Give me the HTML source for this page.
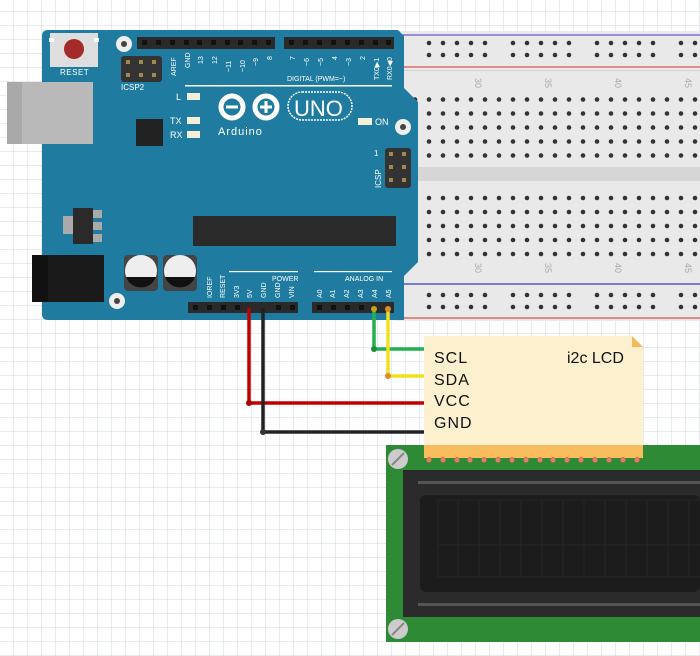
<!DOCTYPE html>
<html><head><style>
html,body{margin:0;padding:0;background:#fff;}
svg{display:block;}
text{font-family:"Liberation Sans",sans-serif;}
</style></head><body>
<svg width="700" height="656" viewBox="0 0 700 656" xmlns="http://www.w3.org/2000/svg">
<defs>
<pattern id="grid" x="13.3" y="11.3" width="14" height="14" patternUnits="userSpaceOnUse">
<path d="M0 0H14M0 0V14" stroke="#cfd6dc" stroke-width="1" fill="none"/>
</pattern>
<pattern id="holes" x="422" y="92.5" width="14" height="14" patternUnits="userSpaceOnUse">
<circle cx="7" cy="7" r="2.3" fill="#333"/>
</pattern>
<pattern id="rail" x="422" y="36" width="84" height="12" patternUnits="userSpaceOnUse">
<circle cx="7" cy="7" r="2.3" fill="#333"/><circle cx="21" cy="7" r="2.3" fill="#333"/><circle cx="35" cy="7" r="2.3" fill="#333"/><circle cx="49" cy="7" r="2.3" fill="#333"/><circle cx="63" cy="7" r="2.3" fill="#333"/>
</pattern>
<pattern id="rail2" x="422" y="288" width="84" height="12" patternUnits="userSpaceOnUse">
<circle cx="7" cy="7" r="2.3" fill="#333"/><circle cx="21" cy="7" r="2.3" fill="#333"/><circle cx="35" cy="7" r="2.3" fill="#333"/><circle cx="49" cy="7" r="2.3" fill="#333"/><circle cx="63" cy="7" r="2.3" fill="#333"/>
</pattern>
</defs>
<rect width="700" height="656" fill="#fff"/>
<rect width="700" height="656" fill="url(#grid)"/>

<!-- breadboard -->
<rect x="395" y="31" width="305" height="290" fill="#e9e9e9"/>
<line x1="395" y1="35" x2="700" y2="35" stroke="#6a5acd" stroke-width="1.2"/>
<line x1="395" y1="67" x2="700" y2="67" stroke="#d9534f" stroke-width="1.2"/>
<line x1="395" y1="284" x2="700" y2="284" stroke="#3a3ac0" stroke-width="1.2"/>
<line x1="395" y1="318" x2="700" y2="318" stroke="#d9534f" stroke-width="1.2"/>
<rect x="395" y="70" width="305" height="1" fill="#d0d0d0"/>
<rect x="395" y="167" width="305" height="14" fill="#d6d6d6"/>
<rect x="395" y="36" width="305" height="24" fill="url(#rail)"/>
<rect x="395" y="288" width="305" height="24" fill="url(#rail2)"/>
<rect x="395" y="92.5" width="305" height="70" fill="url(#holes)"/>
<rect x="395" y="188" width="305" height="70" fill="url(#holes)" transform="translate(0,0.5)"/>
<g fill="#aaa" font-size="9">
<text transform="translate(475,78) rotate(90)">30</text><text transform="translate(545,78) rotate(90)">35</text><text transform="translate(615,78) rotate(90)">40</text><text transform="translate(685,78) rotate(90)">45</text>
<text transform="translate(475,263) rotate(90)">30</text><text transform="translate(545,263) rotate(90)">35</text><text transform="translate(615,263) rotate(90)">40</text><text transform="translate(685,263) rotate(90)">45</text>
</g>

<!-- arduino -->
<rect x="7" y="82" width="86" height="62" fill="#b5b5b5"/>
<rect x="7" y="82" width="15" height="62" fill="#a5a5a5"/>
<rect x="42" y="85" width="8" height="56" fill="#9a9a9a"/>
<path d="M48 30 H398 L404 36 V88 L418 102 V262 L404 276 V320 H48 Q42 320 42 314 V36 Q42 30 48 30Z" fill="#1f7ba0"/>
<rect x="7" y="82" width="86" height="62" fill="#b9b9b9"/>
<rect x="7" y="82" width="15" height="62" fill="#a9a9a9"/>
<!-- reset -->
<rect x="50" y="33" width="48" height="34" fill="#dedede"/>
<rect x="49" y="38" width="5" height="4" fill="#fff"/><rect x="94" y="38" width="5" height="4" fill="#fff"/>
<circle cx="74" cy="49" r="10" fill="#a52a2a"/>
<text x="60" y="75" font-size="8" fill="#fff" letter-spacing="0.5">RESET</text>
<circle cx="124" cy="44" r="8" fill="#eee"/><circle cx="124" cy="44" r="3" fill="#444"/>
<!-- icsp2 -->
<rect x="121" y="56" width="41" height="26" rx="3" fill="#333"/>
<g fill="#a08a50"><rect x="126" y="60" width="4" height="4"/><rect x="139" y="60" width="4" height="4"/><rect x="152" y="60" width="4" height="4"/><rect x="126" y="73" width="4" height="4"/><rect x="139" y="73" width="4" height="4"/><rect x="152" y="73" width="4" height="4"/></g>
<text x="121" y="90" font-size="8" fill="#fff">ICSP2</text>
<!-- top headers -->
<rect x="137" y="37" width="138" height="12" fill="#2a2a2a"/>
<rect x="284" y="37" width="110" height="12" fill="#2a2a2a"/>
<g fill="#111">
<rect x="142" y="40" width="5" height="5"/><rect x="156" y="40" width="5" height="5"/><rect x="170" y="40" width="5" height="5"/><rect x="184" y="40" width="5" height="5"/><rect x="197" y="40" width="5" height="5"/><rect x="211" y="40" width="5" height="5"/><rect x="225" y="40" width="5" height="5"/><rect x="238" y="40" width="5" height="5"/><rect x="252" y="40" width="5" height="5"/><rect x="266" y="40" width="5" height="5"/>
<rect x="289" y="40" width="5" height="5"/><rect x="303" y="40" width="5" height="5"/><rect x="317" y="40" width="5" height="5"/><rect x="331" y="40" width="5" height="5"/><rect x="345" y="40" width="5" height="5"/><rect x="359" y="40" width="5" height="5"/><rect x="373" y="40" width="5" height="5"/><rect x="386" y="40" width="5" height="5"/>
</g>
<g fill="#fff" font-size="7">
<text transform="translate(176,76) rotate(-90)">AREF</text><text transform="translate(190,68) rotate(-90)">GND</text>
<text transform="translate(203,64) rotate(-90)">13</text><text transform="translate(217,64) rotate(-90)">12</text>
<text transform="translate(231,72) rotate(-90)">~11</text><text transform="translate(245,72) rotate(-90)">~10</text>
<text transform="translate(258,66) rotate(-90)">~9</text><text transform="translate(272,60) rotate(-90)">8</text>
<text transform="translate(295,60) rotate(-90)">7</text><text transform="translate(309,66) rotate(-90)">~6</text>
<text transform="translate(323,66) rotate(-90)">~5</text><text transform="translate(337,60) rotate(-90)">4</text>
<text transform="translate(351,66) rotate(-90)">~3</text><text transform="translate(365,60) rotate(-90)">2</text>
<text transform="translate(379,80) rotate(-90)">TX0▶1</text><text transform="translate(392,80) rotate(-90)">RX0◀0</text>
<text x="287" y="81">DIGITAL (PWM=~)</text>
</g>
<rect x="185" y="85" width="207" height="1.5" fill="#fff"/>
<!-- leds -->
<g fill="#fff" font-size="9"><text x="176" y="100">L</text><text x="170" y="124">TX</text><text x="170" y="138">RX</text><text x="375" y="125">ON</text></g>
<g fill="#f3efd8"><rect x="187" y="93" width="13" height="7"/><rect x="187" y="117" width="13" height="7"/><rect x="187" y="131" width="13" height="7"/><rect x="358" y="118" width="14" height="7"/></g>
<rect x="136" y="119" width="27" height="27" fill="#222"/>
<!-- logo -->
<g fill="none" stroke="#fff" stroke-width="5">
<circle cx="232" cy="107" r="11"/><circle cx="266" cy="107" r="11"/>
</g>
<g fill="#fff"><rect x="226" y="105.5" width="12" height="3"/><rect x="260" y="105.5" width="12" height="3"/><rect x="264.5" y="101" width="3" height="12"/></g>
<rect x="288" y="92" width="64" height="28" rx="14" fill="none" stroke="#fff" stroke-width="1.5" stroke-dasharray="2 1"/>
<text x="294" y="116" font-size="22" fill="#fff">UNO</text>
<text x="218" y="135" font-size="11" fill="#fff" letter-spacing="1">Arduino</text>
<circle cx="403" cy="127" r="8" fill="#eee"/><circle cx="403" cy="127" r="3" fill="#444"/>
<!-- icsp right -->
<rect x="385" y="148" width="26" height="40" rx="3" fill="#333"/>
<g fill="#a08a50"><rect x="389" y="152" width="4" height="4"/><rect x="402" y="152" width="4" height="4"/><rect x="389" y="165" width="4" height="4"/><rect x="402" y="165" width="4" height="4"/><rect x="389" y="178" width="4" height="4"/><rect x="402" y="178" width="4" height="4"/></g>
<text x="374" y="156" font-size="8" fill="#fff">1</text>
<text transform="translate(381,188) rotate(-90)" font-size="8" fill="#fff">ICSP</text>
<!-- chip -->
<rect x="193" y="216" width="203" height="30" fill="#2a2a2a"/>
<!-- regulator -->
<rect x="63" y="216" width="10" height="18" fill="#aaa"/>
<rect x="92" y="210" width="10" height="8" fill="#aaa"/><rect x="92" y="222" width="10" height="8" fill="#aaa"/><rect x="92" y="234" width="10" height="8" fill="#aaa"/>
<rect x="73" y="208" width="20" height="36" fill="#2a2a2a"/>
<!-- dc jack -->
<rect x="32" y="255" width="72" height="47" fill="#1a1a1a"/>
<rect x="32" y="255" width="16" height="47" fill="#111"/>
<!-- caps -->
<rect x="124" y="255" width="34" height="36" rx="4" fill="#444"/>
<rect x="163" y="255" width="34" height="36" rx="4" fill="#444"/>
<circle cx="141" cy="271" r="16" fill="#eee"/><path d="M126 277 A16 16 0 0 0 156 277Z" fill="#111"/>
<circle cx="180" cy="271" r="16" fill="#eee"/><path d="M165 277 A16 16 0 0 0 195 277Z" fill="#111"/>
<circle cx="117" cy="301" r="8" fill="#eee"/><circle cx="117" cy="301" r="3" fill="#444"/>
<!-- bottom headers -->
<rect x="229" y="271" width="69" height="1.2" fill="#fff"/><rect x="314" y="271" width="78" height="1.2" fill="#fff"/>
<g fill="#fff" font-size="7">
<text x="272" y="281">POWER</text><text x="345" y="281">ANALOG IN</text>
<text transform="translate(212,298) rotate(-90)">IOREF</text><text transform="translate(225,298) rotate(-90)">RESET</text>
<text transform="translate(239,298) rotate(-90)">3V3</text><text transform="translate(252,298) rotate(-90)">5V</text>
<text transform="translate(266,298) rotate(-90)">GND</text><text transform="translate(280,298) rotate(-90)">GND</text>
<text transform="translate(294,298) rotate(-90)">VIN</text>
<text transform="translate(322,298) rotate(-90)">A0</text><text transform="translate(335,298) rotate(-90)">A1</text>
<text transform="translate(349,298) rotate(-90)">A2</text><text transform="translate(363,298) rotate(-90)">A3</text>
<text transform="translate(377,298) rotate(-90)">A4</text><text transform="translate(391,298) rotate(-90)">A5</text>
</g>
<rect x="188" y="302" width="110" height="11" fill="#2a2a2a"/>
<rect x="312" y="302" width="82" height="11" fill="#2a2a2a"/>
<g fill="#111"><rect x="193" y="305" width="5" height="5"/><rect x="207" y="305" width="5" height="5"/><rect x="221" y="305" width="5" height="5"/><rect x="235" y="305" width="5" height="5"/><rect x="276" y="305" width="5" height="5"/><rect x="290" y="305" width="5" height="5"/>
<rect x="317" y="305" width="5" height="5"/><rect x="331" y="305" width="5" height="5"/><rect x="345" y="305" width="5" height="5"/><rect x="359" y="305" width="5" height="5"/></g>

<!-- wires -->
<g fill="none" stroke-width="3.5">
<path d="M249 308 V403 H426" stroke="#c00000"/>
<path d="M263 308 V432 H426" stroke="#222"/>
<path d="M374 308 V349 H426" stroke="#22b14c"/>
<path d="M388 308 V376 H426" stroke="#f0e020"/>
</g>
<g><circle cx="249" cy="403" r="3" fill="#a00"/><circle cx="263" cy="432" r="3" fill="#333"/><circle cx="374" cy="349" r="3" fill="#1a8f3a"/><circle cx="388" cy="376" r="3" fill="#e08a2a"/>
<circle cx="374" cy="309" r="3" fill="#c8a020"/><circle cx="388" cy="309" r="3" fill="#e08a2a"/></g>

<!-- LCD -->
<rect x="386" y="445" width="314" height="197" fill="#2f8a36"/>
<circle cx="398" cy="459" r="10" fill="#ccc"/><line x1="392" y1="465" x2="404" y2="453" stroke="#888" stroke-width="2"/>
<circle cx="398" cy="629" r="10" fill="#ccc"/><line x1="392" y1="635" x2="404" y2="623" stroke="#888" stroke-width="2"/>
<rect x="403" y="470" width="297" height="147" fill="#2b2b2b"/>
<rect x="418" y="481" width="282" height="3" fill="#555"/>
<rect x="418" y="603" width="282" height="3" fill="#555"/>
<rect x="420" y="495" width="280" height="97" rx="6" fill="#1c1c1c"/>
<g stroke="#262626" stroke-width="1">
<line x1="438" y1="500" x2="700" y2="500"/><line x1="438" y1="545" x2="700" y2="545"/><line x1="438" y1="577" x2="700" y2="577"/>
<line x1="438" y1="500" x2="438" y2="577"/><line x1="458" y1="500" x2="458" y2="577"/><line x1="479" y1="500" x2="479" y2="577"/><line x1="500" y1="500" x2="500" y2="577"/><line x1="521" y1="500" x2="521" y2="577"/><line x1="542" y1="500" x2="542" y2="577"/><line x1="563" y1="500" x2="563" y2="577"/><line x1="584" y1="500" x2="584" y2="577"/><line x1="605" y1="500" x2="605" y2="577"/><line x1="626" y1="500" x2="626" y2="577"/><line x1="647" y1="500" x2="647" y2="577"/><line x1="668" y1="500" x2="668" y2="577"/><line x1="689" y1="500" x2="689" y2="577"/>
</g>
<!-- i2c note -->
<path d="M424 336 H632 L643 347 V458 H424Z" fill="#fdf0cf"/>
<path d="M632 336 L643 347 H632Z" fill="#f5b85a"/>
<rect x="424" y="445" width="219" height="13" fill="#f9bd5f"/>
<g fill="#e08060" stroke="#b06040" stroke-width="0.5">
<circle cx="429" cy="460" r="2.6"/><circle cx="443" cy="460" r="2.6"/><circle cx="457" cy="460" r="2.6"/><circle cx="470" cy="460" r="2.6"/><circle cx="484" cy="460" r="2.6"/><circle cx="498" cy="460" r="2.6"/><circle cx="512" cy="460" r="2.6"/><circle cx="526" cy="460" r="2.6"/><circle cx="540" cy="460" r="2.6"/><circle cx="553" cy="460" r="2.6"/><circle cx="567" cy="460" r="2.6"/><circle cx="581" cy="460" r="2.6"/><circle cx="595" cy="460" r="2.6"/><circle cx="609" cy="460" r="2.6"/><circle cx="623" cy="460" r="2.6"/><circle cx="637" cy="460" r="2.6"/>
</g>
<g fill="#111" font-size="16" letter-spacing="1">
<text x="434" y="363">SCL</text><text x="434" y="385">SDA</text><text x="434" y="406">VCC</text><text x="434" y="428">GND</text>
</g>
<text x="567" y="363" font-size="16" fill="#111">i2c LCD</text>
</svg>
</body></html>
